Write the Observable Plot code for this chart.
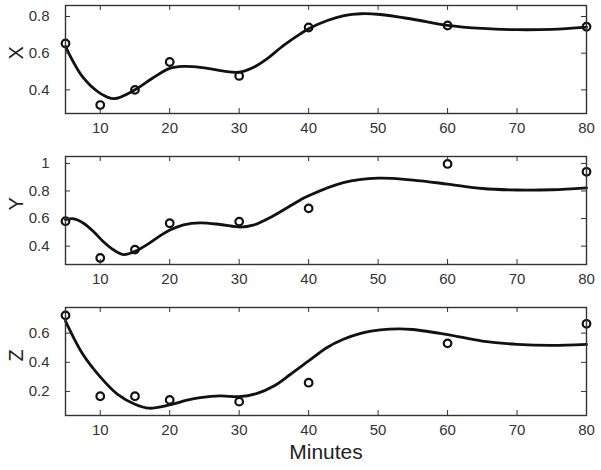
<!DOCTYPE html>
<html>
<head>
<meta charset="utf-8">
<script src="https://cdn.jsdelivr.net/npm/d3@7"></script>
<script src="https://cdn.jsdelivr.net/npm/@observablehq/plot@0.6"></script>
<style>
  body { margin: 0; background: #fff; }
  #chart svg { display: block; }
</style>
</head>
<body>
<div id="chart"></div>
<script>
// Sample times (minutes)
const minutes = [5, 10, 15, 20, 30, 40, 60, 80];
const xTicks = [10, 20, 30, 40, 50, 60, 70, 80];

// Observed values
const obsX = [0.653, 0.317, 0.400, 0.552, 0.476, 0.740, 0.751, 0.744];
const obsY = [0.581, 0.314, 0.375, 0.566, 0.578, 0.674, 0.996, 0.939];
const obsZ = [0.722, 0.167, 0.167, 0.142, 0.130, 0.260, 0.530, 0.664];

// Fitted curves
const fitXt = [5, 7.5, 10, 12, 15, 17.5, 20, 22, 24.4, 27.3, 30, 32.1, 34, 36.4, 38.8, 40, 42.7, 45.1, 47.5, 50.3, 55, 60, 65, 70, 75, 80];
const fitXv = [0.636, 0.469, 0.381, 0.352, 0.400, 0.463, 0.517, 0.528, 0.523, 0.505, 0.496, 0.523, 0.569, 0.642, 0.705, 0.733, 0.778, 0.805, 0.815, 0.811, 0.785, 0.752, 0.735, 0.728, 0.730, 0.742];

const fitYt = [5, 6.2, 7.6, 9.1, 10.5, 12, 13.4, 15.1, 16.8, 18.7, 20.1, 22, 24.4, 27.3, 30.2, 32, 35, 38.8, 40, 45, 50, 55, 60, 65, 70, 75, 80];
const fitYv = [0.592, 0.598, 0.566, 0.502, 0.430, 0.370, 0.339, 0.365, 0.413, 0.478, 0.519, 0.555, 0.569, 0.557, 0.538, 0.552, 0.622, 0.735, 0.766, 0.861, 0.893, 0.879, 0.850, 0.818, 0.807, 0.809, 0.823];

const fitZt = [5, 7.5, 10, 12.5, 15, 17, 20, 22.5, 24.4, 27.3, 30, 32.6, 35, 37.4, 40, 42.6, 45, 47.5, 50.3, 53, 55, 60, 65, 70, 75, 80];
const fitZv = [0.683, 0.455, 0.300, 0.180, 0.112, 0.085, 0.108, 0.140, 0.157, 0.169, 0.164, 0.187, 0.237, 0.318, 0.409, 0.500, 0.558, 0.599, 0.622, 0.630, 0.625, 0.590, 0.546, 0.523, 0.516, 0.523];

const panels = [
  {label: "X", obs: obsX, ft: fitXt, fv: fitXv, domain: [0.271, 0.86], ticks: [0.4, 0.6, 0.8], height: 150, mt: 5, mb: 37, last: false},
  {label: "Y", obs: obsY, ft: fitYt, fv: fitYv, domain: [0.267, 1.05], ticks: [0.4, 0.6, 0.8, 1], height: 150, mt: 6, mb: 36, last: false},
  {label: "Z", obs: obsZ, ft: fitZt, fv: fitZv, domain: [0.035, 0.776], ticks: [0.2, 0.4, 0.6], height: 170, mt: 7, mb: 55, last: true}
];

const W = 601, ML = 65, MR = 15;
const ink = "#333";
const font = "'Liberation Sans', Arial, Helvetica, sans-serif";

for (const p of panels) {
  const fh = p.height - p.mt - p.mb;
  const fw = W - ML - MR;
  const pts = minutes.map((m, i) => ({m, v: p.obs[i]}));
  const fit = p.ft.map((m, i) => ({m, v: p.fv[i]}));
  const marks = [
    Plot.line(fit, {x: "m", y: "v", curve: "catmull-rom", stroke: "#111", strokeWidth: 2.8}),
    Plot.dot(pts, {x: "m", y: "v", r: 3.8, stroke: "#111", strokeWidth: 2.2, fill: "none"}),
    Plot.frame({stroke: ink, strokeWidth: 1.4}),
    // inward ticks
    Plot.tickX(xTicks, {x: d => d, insetTop: fh - 5, stroke: ink}),
    Plot.tickX(xTicks, {x: d => d, insetBottom: fh - 5, stroke: ink}),
    Plot.tickY(p.ticks, {y: d => d, insetRight: fw - 5, stroke: ink}),
    Plot.tickY(p.ticks, {y: d => d, insetLeft: fw - 5, stroke: ink}),
    Plot.axisX({ticks: xTicks, tickSize: 0, tickPadding: 9, fontSize: 15, color: ink, label: null}),
    Plot.axisY({ticks: p.ticks, tickSize: 0, tickPadding: 16, fontSize: 15, color: ink, label: null, tickFormat: d => String(d)}),
    Plot.text([p.label], {text: d => d, frameAnchor: "left", dx: -49, rotate: -90, fontSize: 20, fill: "#222"})
  ];
  if (p.last) {
    marks.push(Plot.text(["Minutes"], {text: d => d, frameAnchor: "bottom", dy: 43, fontSize: 21, fill: "#222"}));
  }
  const svg = Plot.plot({
    width: W,
    height: p.height,
    marginLeft: ML,
    marginRight: MR,
    marginTop: p.mt,
    marginBottom: p.mb,
    style: {fontFamily: font, background: "white", overflow: "visible"},
    x: {domain: [5, 80]},
    y: {domain: p.domain},
    marks
  });
  document.getElementById("chart").appendChild(svg);
}
</script>
</body>
</html>
